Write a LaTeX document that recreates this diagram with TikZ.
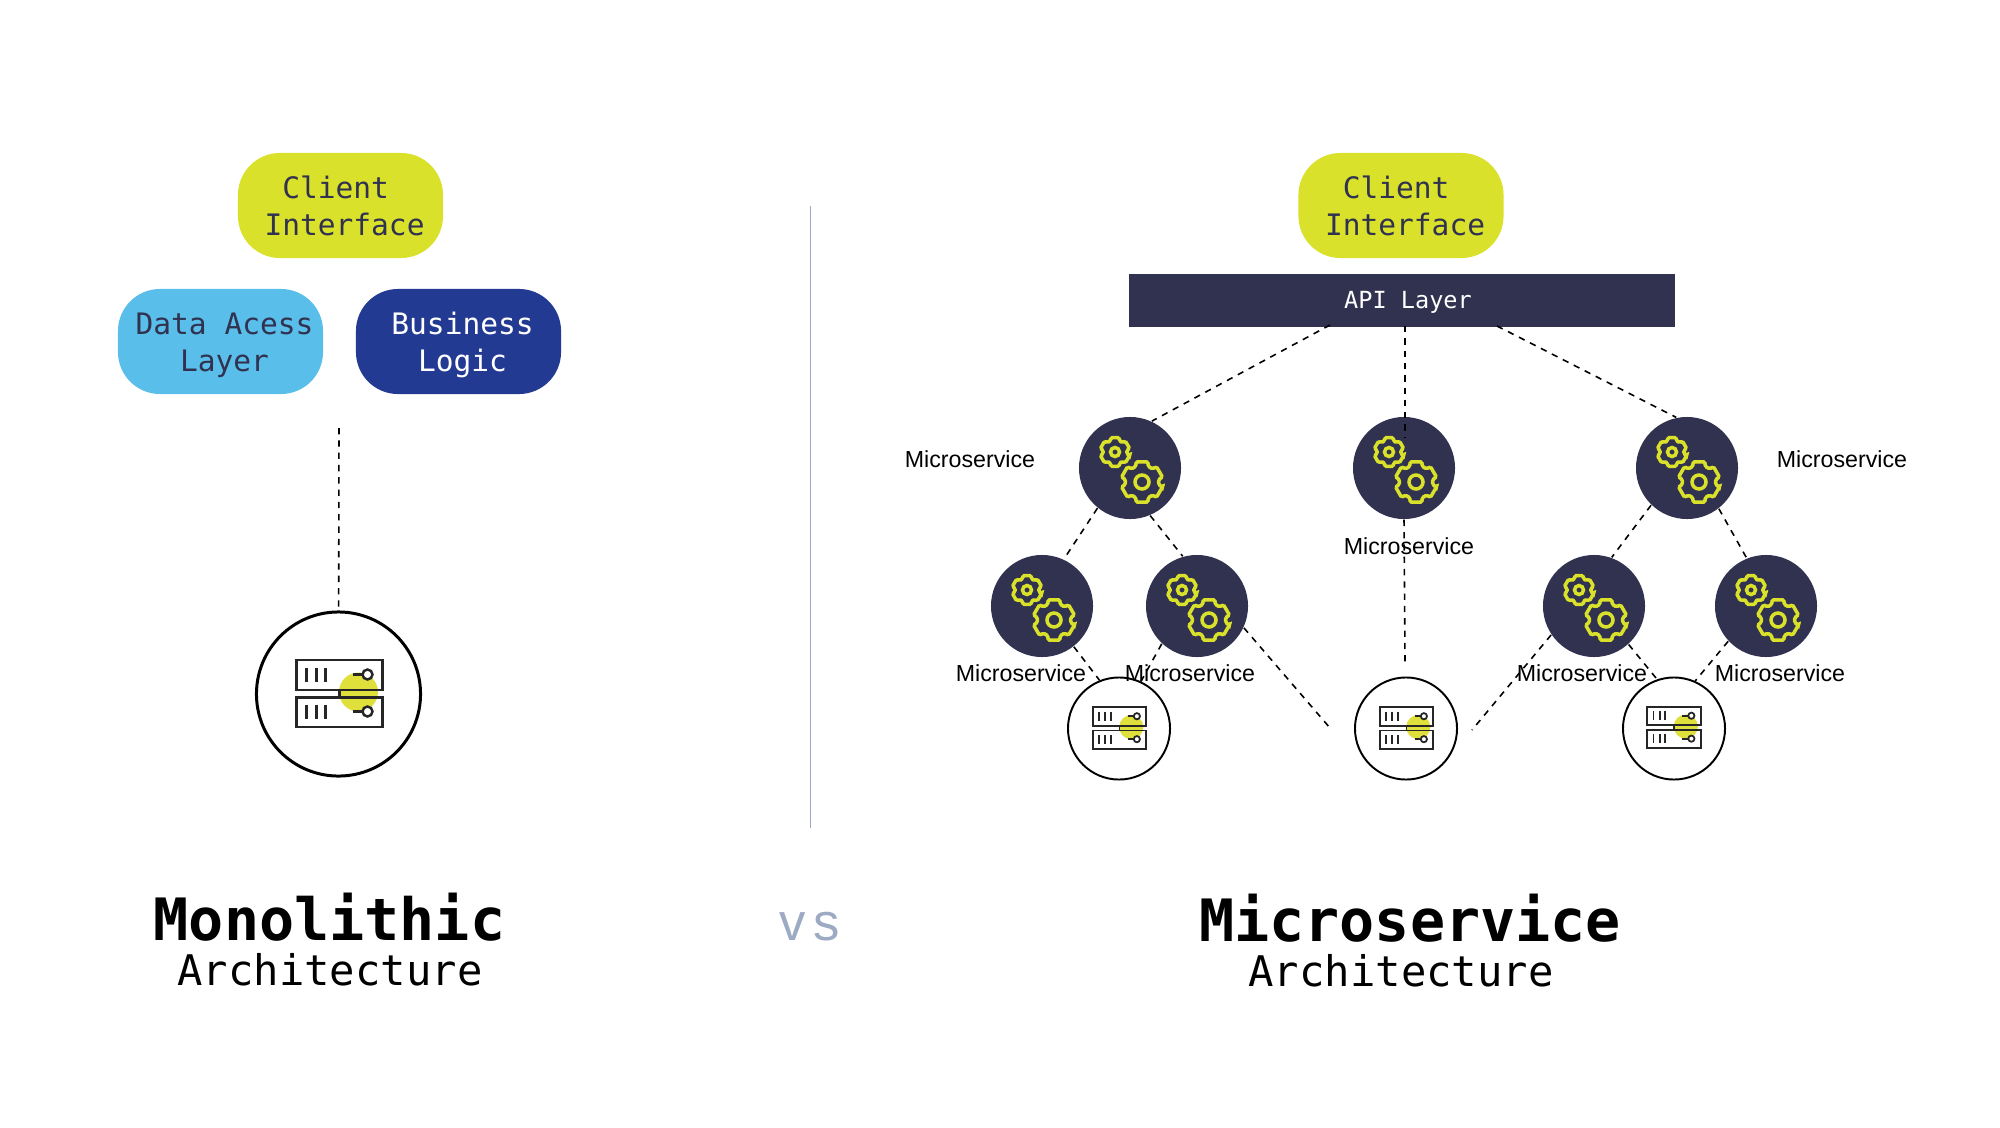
\documentclass[tikz,border=0pt]{standalone}
\usepackage{fontspec}
\usetikzlibrary{calc}
\newfontfamily\monofont{DejaVu Sans Mono}
\newfontfamily\helvfont{Liberation Sans}
\definecolor{limeC}{HTML}{D9E12B}
\definecolor{darkC}{HTML}{303250}
\definecolor{skyC}{HTML}{5ABEEA}
\definecolor{royalC}{HTML}{233A93}
\definecolor{spotC}{HTML}{E0E03C}
\definecolor{slateC}{HTML}{9DAAC3}
\newcommand{\boxlines}[2]{\rule{0pt}{8.4pt}\hspace*{2.3pt}#1\\\rule[-2pt]{0pt}{2pt}\hspace*{2.3pt}#2}
\newcommand{\cog}[4]{%
	\begin{scope}[shift={(#1,#2)}]
		\draw[cogline,rounded corners=0.4pt] (15:#3) \foreach \a in {30,90,...,330} {-- (\a-16:#3) -- (\a+16:#3) -- (\a+22:.8*#3) -- (\a+38:.8*#3)} -- cycle;
		\draw[cogline] (0,0) circle (#4);
	\end{scope}}
\tikzset{
	boxnode/.style={rounded corners=.42cm,minimum width=2.05cm,minimum height=1.05cm,inner sep=0,align=center,font=\monofont\fontsize{8.4}{10.5}\selectfont},
	svcnode/.style={circle,fill=darkC,minimum size=1.02cm,inner sep=0},
	dbnode/.style={circle,draw=black,fill=white,line width=.55pt,minimum size=1.02cm,inner sep=0},
	svclabel/.style={anchor=base,inner sep=0,font=\helvfont\fontsize{6.6}{7.5}\selectfont},
	bigtitle/.style={anchor=base,inner sep=0,font=\monofont\bfseries\fontsize{16.6}{20}\selectfont},
	subtitle/.style={anchor=base,inner sep=0,font=\monofont\fontsize{12}{14}\selectfont},
	dashline/.style={black,line width=.45pt,dash pattern=on 1.8pt off 1.7pt},
	cogline/.style={draw=limeC,line width=1pt},
	pics/gearpair/.style={code={
		\cog{-15}{-16}{15}{4.5}
		\cog{12}{14}{21}{7}
	}},
	pics/rack/.style={code={
		\fill[spotC] (19,-1.5) circle (19.5);
		\draw[line width=#1,draw=black!85] (-43,-33.5) rectangle (43,-3.5);
		\draw[line width=#1,draw=black!85] (-43,4) rectangle (43,33.5);
		\draw[line width=#1,draw=black!85] (0,-3.5) -- (0,4);
		\draw[line width=#1,draw=black!85] (-33,-26) -- (-33,-12);
		\draw[line width=#1,draw=black!85] (-23,-26) -- (-23,-12);
		\draw[line width=#1,draw=black!85] (-14,-26) -- (-14,-12);
		\draw[line width=#1,draw=black!85] (-33,11) -- (-33,25);
		\draw[line width=#1,draw=black!85] (-23,11) -- (-23,25);
		\draw[line width=#1,draw=black!85] (-14,11) -- (-14,25);
		\draw[line width=#1,draw=black!85] (13,-19) -- (23,-19);
		\draw[line width=#1,draw=black!85] (13,18) -- (23,18);
		\draw[line width=#1,draw=black!85,fill=white] (28,-19) circle (5);
		\draw[line width=#1,draw=black!85,fill=white] (28,18) circle (5);
	}}
}
\begin{document}
\begin{tikzpicture}[x=0.01cm,y=-0.01cm]
		\useasboundingbox (0,0) rectangle (2000,1127);
		% left side
		\node[boxnode,fill=limeC,text=darkC] (clientL) at (340.5,205.5) {\boxlines{Client~\mbox{}}{Interface}};
		\node[boxnode,fill=skyC,text=darkC] (dataL) at (220.5,341.5) {\boxlines{Data Acess}{Layer}};
		\node[boxnode,fill=royalC,text=white] (logicL) at (458.5,341.5) {\boxlines{Business}{Logic}};
		\coordinate (dashL) at (339,428);
		\node[circle,draw=black,fill=white,line width=.85pt,minimum size=1.64cm,inner sep=0] (dbL) at (338.5,694) {};
		\pic at (339.5,693.5) {rack=.7pt};
		\draw[dashline] (dashL) -- (dbL);
		\draw[slateC,line width=.55pt] (810.5,206) coordinate (divTop) -- (810.5,828) coordinate (divEnd);
		% right side
		\node[boxnode,fill=limeC,text=darkC] (clientR) at (1401,205.5) {\boxlines{Client~\mbox{}}{Interface}};
		\node[fill=darkC,text=white,minimum width=5.46cm,minimum height=.53cm,inner sep=0,font=\monofont\fontsize{6.7}{8}\selectfont] (api) at (1402,300.5) {\rule{0pt}{5.8pt}\hspace*{3.4pt}API Layer};
		\node[svcnode] (svcA) at (1130,468) {};
		\node[svcnode] (svcB) at (1404,468) {};
		\node[svcnode] (svcC) at (1687,468) {};
		\node[svcnode] (svcD) at (1042,606) {};
		\node[svcnode] (svcE) at (1197,606) {};
		\node[svcnode] (svcF) at (1594,606) {};
		\node[svcnode] (svcG) at (1766,606) {};
		\pic at (svcA) {gearpair};
		\pic at (svcB) {gearpair};
		\pic at (svcC) {gearpair};
		\pic at (svcD) {gearpair};
		\pic at (svcE) {gearpair};
		\pic at (svcF) {gearpair};
		\pic at (svcG) {gearpair};
		\node[dbnode] (dbA) at (1119,728.5) {};
		\node[dbnode] (dbB) at (1406,728.5) {};
		\node[dbnode] (dbC) at (1674,728.5) {};
		\pic[scale=.62] at (1119.5,728) {rack=.5pt};
		\pic[scale=.62] at (1406.5,728) {rack=.5pt};
		\pic[scale=.62] at (1674,727.5) {rack=.5pt};
		% dashed links
		\coordinate (apiA) at (1330,325);
		\coordinate (apiB) at (1405,326);
		\coordinate (apiC) at (1497,326);
		\coordinate (inB) at (1405,438);
		\coordinate (stopB) at (1405,662);
		\coordinate (stopL) at (1330,728);
		\coordinate (stopR) at (1472,730);
		\draw[dashline] (apiA) -- (svcA.65);
		\draw[dashline] (apiB) -- (inB);
		\draw[dashline] (apiC) -- (svcC.102);
		\draw[dashline] (svcB.south) -- (stopB);
		\draw[dashline] (svcA.231) -- (svcD.65);
		\draw[dashline] (svcA.293) -- (svcE.106);
		\draw[dashline] (svcD.308) -- (dbA.112);
		\draw[dashline] (svcE.227) -- (dbA.65);
		\draw[dashline] (svcE.335) -- (stopL);
		\draw[dashline] (svcC.226) -- (svcF.70);
		\draw[dashline] (svcC.308) -- (svcG.112);
		\draw[dashline] (svcF.214) -- (stopR);
		\draw[dashline] (svcF.312) -- (dbC.109);
		\draw[dashline] (svcG.223) -- (dbC.66);
		% labels
		\node[svclabel] (lblA) at (970,467) {Microservice};
		\node[svclabel] (lblB) at (1409,554.5) {Microservice};
		\node[svclabel] (lblC) at (1842,467) {Microservice};
		\node[svclabel] (lblD) at (1021,681.5) {Microservice};
		\node[svclabel] (lblE) at (1190,681.5) {Microservice};
		\node[svclabel] (lblF) at (1582,681.5) {Microservice};
		\node[svclabel] (lblG) at (1780,681.5) {Microservice};
		% titles
		\node[bigtitle] (monoT) at (329.5,940) {Monolithic};
		\node[subtitle] (monoS) at (330,985) {Architecture};
		\node[bigtitle] (microT) at (1410,941) {Microservice};
		\node[subtitle] (microS) at (1401,986) {Architecture};
		\node[anchor=base,inner sep=0,text=slateC,font=\helvfont\fontsize{15}{18}\selectfont] (vsT) at (809.5,940) {v\hspace{2pt}s};
		\end{tikzpicture}
\end{document}
